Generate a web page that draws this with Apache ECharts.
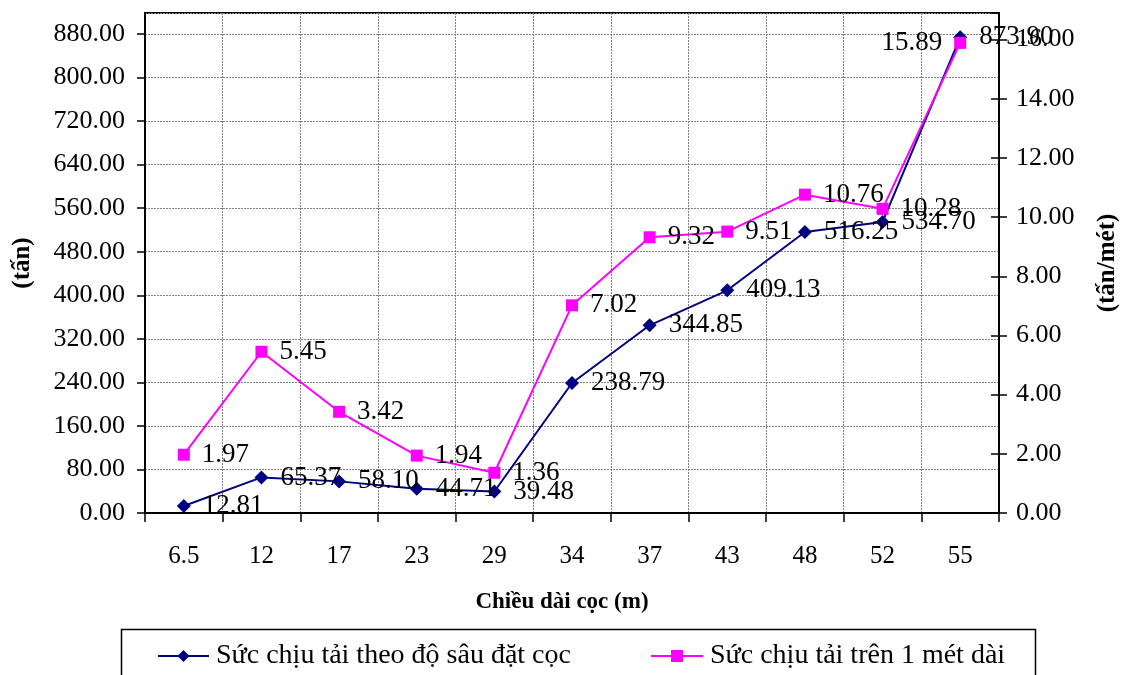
<!DOCTYPE html>
<html>
<head>
<meta charset="utf-8">
<script src="https://cdn.jsdelivr.net/npm/echarts@6/dist/echarts.min.js"></script>
<style>
  html, body { margin: 0; padding: 0; background: #fff; }
  #chart { width: 1128px; height: 675px; }
</style>
</head>
<body>
<div id="chart"></div>
<script>
// Pile length (m) on the category axis
const pileLengths = ['6.5', '12', '17', '23', '29', '34', '37', '43', '48', '52', '55'];
// Bearing capacity by pile tip depth (tấn) – left axis
const capacityByDepth = [12.81, 65.37, 58.10, 44.71, 39.48, 238.79, 344.85, 409.13, 516.25, 534.70, 873.90];
// Bearing capacity per metre of pile (tấn/mét) – right axis
const capacityPerMetre = [1.97, 5.45, 3.42, 1.94, 1.36, 7.02, 9.32, 9.51, 10.76, 10.28, 15.89];

const seriesNames = ['Sức chịu tải theo độ sâu đặt cọc', 'Sức chịu tải trên 1 mét dài'];

const FONT = '"Liberation Serif", "Times New Roman", serif';
const fmt2 = v => Number(v).toFixed(2);

const chart = echarts.init(document.getElementById('chart'), null, { renderer: 'canvas' });

const labelStyle = {
  show: true,
  position: 'right',
  distance: 12,
  color: '#000',
  fontFamily: FONT,
  fontSize: 27,
  formatter: p => fmt2(p.value)
};

const gridLine = { show: true, lineStyle: { color: '#808080', type: [2, 1], width: 1 } };

chart.setOption({
  animation: false,
  backgroundColor: '#fff',
  textStyle: { fontFamily: FONT },
  grid: { left: 145, right: 128, top: 13, bottom: 162, show: true, borderColor: '#000', borderWidth: 2 },
  legend: [
    {
      data: [seriesNames[0]],
      left: 157, top: 642,
      padding: 0,
      itemWidth: 51, itemHeight: 15,
      textStyle: { fontFamily: FONT, fontSize: 28, color: '#000', padding: [0, 0, 0, 2] }
    },
    {
      data: [seriesNames[1]],
      left: 650, top: 642,
      padding: 0,
      itemWidth: 52, itemHeight: 15,
      textStyle: { fontFamily: FONT, fontSize: 28, color: '#000', padding: [0, 0, 0, 2] }
    }
  ],
  graphic: [
    { type: 'rect', left: 119, top: 627, shape: { width: 914, height: 70 },
      style: { fill: 'none', stroke: '#000', lineWidth: 1.5 }, z: 0 }
  ],
  xAxis: {
    type: 'category',
    data: pileLengths,
    boundaryGap: true,
    name: 'Chiều dài cọc (m)',
    nameLocation: 'middle',
    nameGap: 78,
    nameTextStyle: { fontFamily: FONT, fontSize: 23, fontWeight: 'bold', color: '#000', padding: [0, 20, 0, 0] },
    axisLine: { lineStyle: { color: '#000', width: 2 } },
    axisTick: { show: true, alignWithLabel: false, length: 9, lineStyle: { color: '#000', width: 1.5 } },
    axisLabel: { color: '#000', fontFamily: FONT, fontSize: 25, margin: 31 },
    splitLine: gridLine
  },
  yAxis: [
    {
      type: 'value',
      min: 0, max: 918.6, interval: 80,
      position: 'left',
      name: '(tấn)',
      nameLocation: 'middle',
      nameGap: 110,
      nameRotate: 90,
      nameTextStyle: { fontFamily: FONT, fontSize: 25, fontWeight: 'bold', color: '#000' },
      axisLine: { show: true, lineStyle: { color: '#000', width: 2 } },
      axisTick: { show: true, length: 8, lineStyle: { color: '#000', width: 1.5 } },
      axisLabel: { color: '#000', fontFamily: FONT, fontSize: 26, margin: 20, showMaxLabel: false, formatter: v => fmt2(v) },
      splitLine: gridLine
    },
    {
      type: 'value',
      min: 0, max: 16.9, interval: 2,
      position: 'right',
      name: '(tấn/mét)',
      nameLocation: 'middle',
      nameGap: 96,
      nameRotate: 90,
      nameTextStyle: { fontFamily: FONT, fontSize: 25, fontWeight: 'bold', color: '#000' },
      axisLine: { show: true, lineStyle: { color: '#000', width: 2 } },
      axisTick: { show: true, length: 8, lineStyle: { color: '#000', width: 1.5 } },
      axisLabel: { color: '#000', fontFamily: FONT, fontSize: 26, margin: 17, showMaxLabel: false, formatter: v => fmt2(v) },
      splitLine: { show: false }
    },
    {
      // inner half of the right-hand cross ticks
      type: 'value',
      min: 0, max: 16.9, interval: 2,
      position: 'right',
      axisLine: { show: false },
      axisTick: { show: true, inside: true, length: 8, lineStyle: { color: '#000', width: 1.5 } },
      axisLabel: { show: false },
      splitLine: { show: false }
    }
  ],
  series: [
    {
      name: seriesNames[0],
      type: 'line',
      yAxisIndex: 0,
      data: capacityByDepth,
      symbol: 'diamond',
      symbolSize: 14,
      itemStyle: { color: '#000080' },
      lineStyle: { color: '#000080', width: 2 },
      label: labelStyle,
      z: 3
    },
    {
      name: seriesNames[1],
      type: 'line',
      yAxisIndex: 1,
      data: capacityPerMetre.map((v, i) => i === capacityPerMetre.length - 1
        ? { value: v, label: { position: 'left', distance: 12 } }
        : v),
      symbol: 'rect',
      symbolSize: 12,
      itemStyle: { color: '#FF00FF' },
      lineStyle: { color: '#FF00FF', width: 2 },
      label: labelStyle,
      z: 4
    }
  ]
});
</script>
</body>
</html>
